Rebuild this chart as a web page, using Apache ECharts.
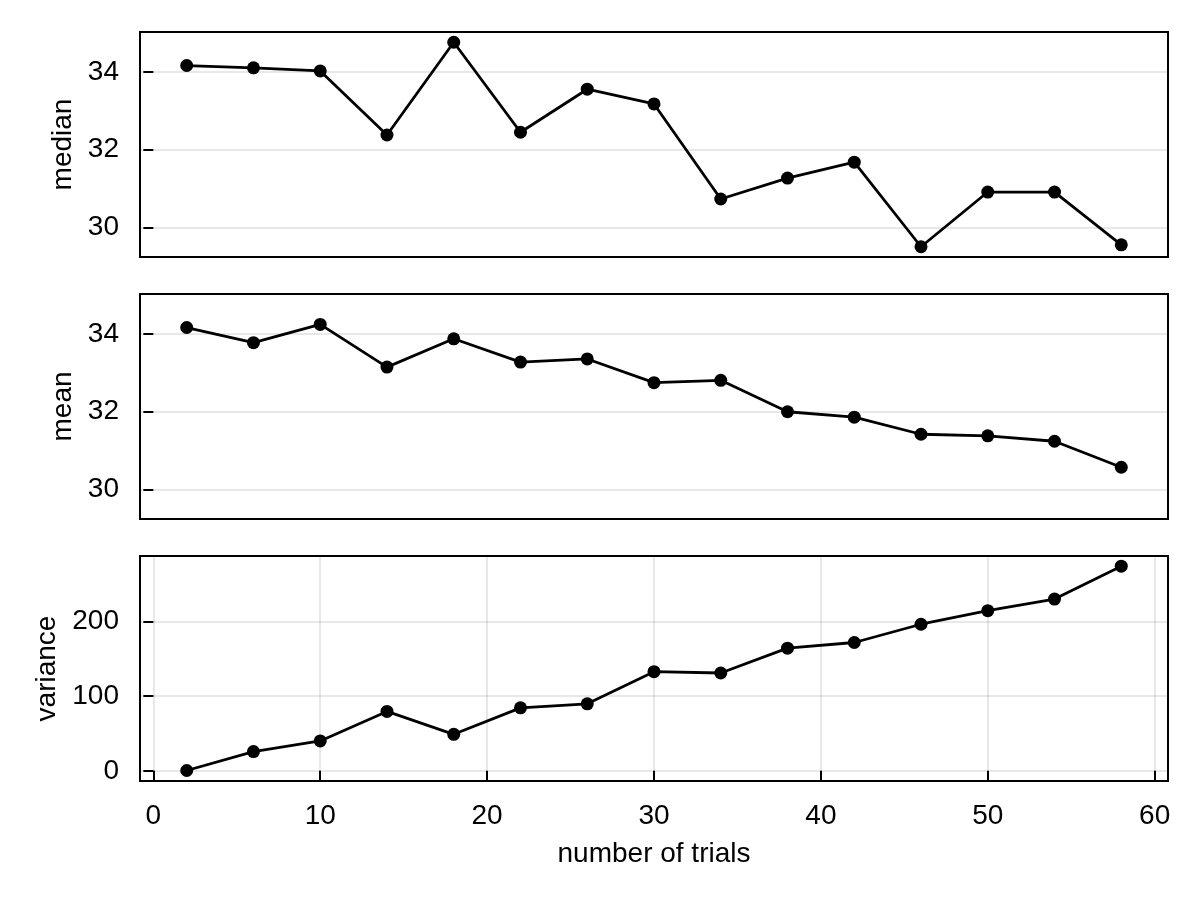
<!DOCTYPE html>
<html>
<head>
<meta charset="utf-8">
<script src="https://cdn.jsdelivr.net/npm/echarts@6/dist/echarts.min.js"></script>
<style>
  html, body { margin: 0; padding: 0; background: #fff; }
  #chart { width: 1200px; height: 900px; }
</style>
</head>
<body>
<div id="chart"></div>
<script>
// number of trials
const trials = [2, 6, 10, 14, 18, 22, 26, 30, 34, 38, 42, 46, 50, 54, 58];
const medianVals = [34.17, 34.11, 34.03, 32.38, 34.77, 32.45, 33.56, 33.18, 30.73, 31.27, 31.68, 29.50, 30.91, 30.91, 29.55];
const meanVals = [34.17, 33.78, 34.25, 33.15, 33.88, 33.28, 33.36, 32.75, 32.81, 32.00, 31.86, 31.42, 31.38, 31.24, 30.57];
const varianceVals = [0.4, 25.8, 40.0, 79.6, 48.9, 84.4, 89.8, 132.9, 131.1, 164.4, 172.0, 196.5, 214.7, 230.3, 274.3];

const xTicks = [0, 10, 20, 30, 40, 50, 60];
const statTicks = [30, 32, 34];
const varTicks = [0, 100, 200];

const chart = echarts.init(document.getElementById("chart"));
const font = "Liberation Sans";
const fs = 28;

const pair = (ys) => trials.map((x, i) => [x, ys[i]]);

const grids = [32, 294, 556].map((top) => ({
  left: 140,
  right: 32,
  top: top,
  height: 225,
  show: true,
  borderColor: "#000",
  borderWidth: 2,
  backgroundColor: "#fff",
}));

const splitLine = { show: true, lineStyle: { color: "rgba(0,0,0,0.12)", width: 1.5 } };

const makeX = (idx, visible) => ({
  type: "value",
  gridIndex: idx,
  min: -0.8,
  max: 60.8,
  axisLine: { show: false },
  axisTick: { show: visible, length: 10, lineStyle: { color: "#000", width: 2 }, customValues: xTicks },
  axisLabel: { show: visible, margin: 21, color: "#000", fontSize: fs, fontFamily: font, customValues: xTicks },
  splitLine: visible ? splitLine : { show: false },
  name: visible ? "number of trials" : "",
  nameLocation: "middle",
  nameGap: 59,
  nameTextStyle: { color: "#000", fontSize: fs, fontFamily: font },
});

const makeY = (idx, name, min, max, ticks, gap) => ({
  type: "value",
  gridIndex: idx,
  min: min,
  max: max,
  axisLine: { show: false },
  axisTick: { show: true, length: 10, lineStyle: { color: "#000", width: 2 }, customValues: ticks },
  axisLabel: { margin: 21, color: "#000", fontSize: fs, fontFamily: font, customValues: ticks },
  splitLine: splitLine,
  name: name,
  nameLocation: "middle",
  nameGap: gap,
  nameTextStyle: { color: "#000", fontSize: fs, fontFamily: font },
});

const makeSeries = (idx, ys) => ({
  type: "line",
  xAxisIndex: idx,
  yAxisIndex: idx,
  data: pair(ys),
  symbol: "circle",
  symbolSize: 13,
  showSymbol: true,
  lineStyle: { color: "#000", width: 2.8 },
  itemStyle: { color: "#000" },
});

chart.setOption({
  animation: false,
  backgroundColor: "#fff",
  grid: grids,
  xAxis: [makeX(0, false), makeX(1, false), makeX(2, true)],
  yAxis: [
    makeY(0, "median", 29.236, 35.034, statTicks, 60),
    makeY(1, "mean", 29.236, 35.034, statTicks, 60),
    makeY(2, "variance", -13.7, 288, varTicks, 76),
  ],
  series: [makeSeries(0, medianVals), makeSeries(1, meanVals), makeSeries(2, varianceVals)],
});
</script>
</body>
</html>
